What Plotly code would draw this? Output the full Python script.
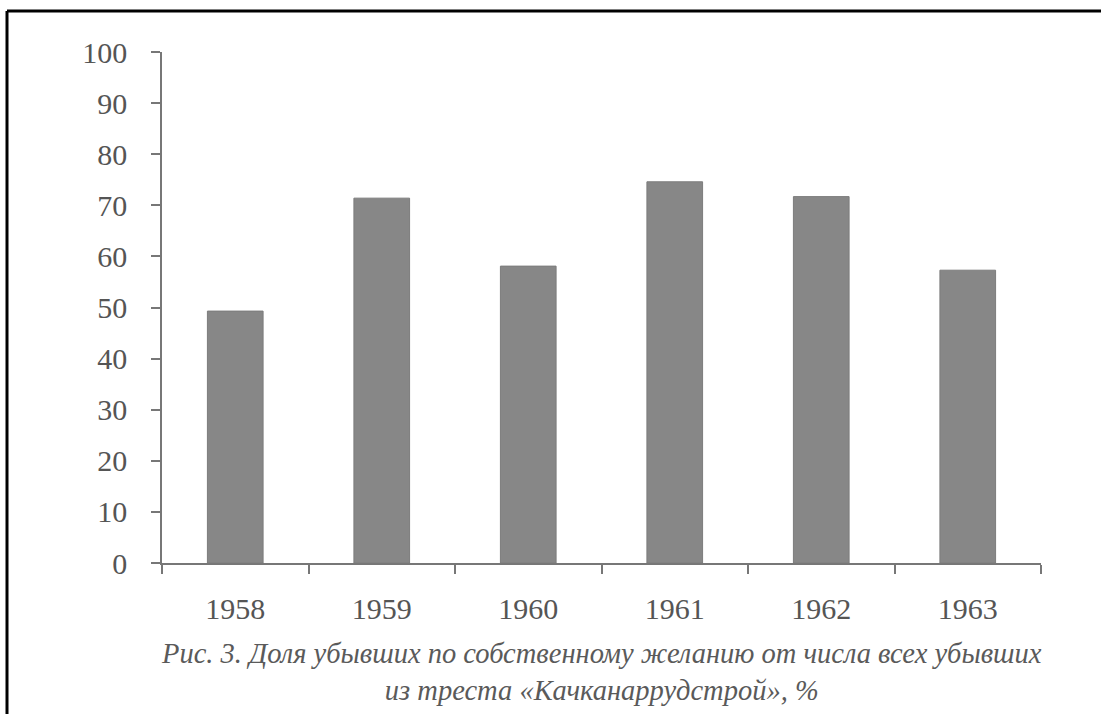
import plotly.graph_objects as go

years = ["1958", "1959", "1960", "1961", "1962", "1963"]
shares = [49.3, 71.4, 58.1, 74.6, 71.7, 57.3]
y_ticks = [0, 10, 20, 30, 40, 50, 60, 70, 80, 90, 100]
caption = ("Рис. 3. Доля убывших по собственному желанию от числа всех убывших"
           "<br>из треста «Качканаррудстрой», %")

W, H = 1101, 714
L, R, T, B = 162, 60, 52, 151
pw, ph = W - L - R, H - T - B

def px_x(p):
    return (p - L) / pw

def px_y(p):
    return (H - B - p) / ph

fig = go.Figure(go.Bar(
    x=years, y=shares,
    marker=dict(color="#878787", line=dict(color="#7c7c7c", width=1)),
    width=0.38,
))

font = dict(family="Liberation Serif", size=30, color="#555555")

fig.update_layout(
    width=W, height=H,
    margin=dict(l=L, r=R, t=T, b=B, pad=0),
    paper_bgcolor="white", plot_bgcolor="white",
    showlegend=False,
    font=font,
    xaxis=dict(
        type="category", showgrid=False, showline=True, linecolor="#777777", linewidth=1.5,
        ticks="outside", ticklen=9, tickcolor="#777777", tickwidth=1.5,
        tickson="boundaries", ticklabelstandoff=18, tickfont=font,
    ),
    yaxis=dict(
        range=[0, 100], tickvals=y_ticks, showgrid=False, zeroline=False,
        showline=True, linecolor="#777777", linewidth=1.5,
        ticks="outside", ticklen=9, tickcolor="#777777", tickwidth=1.5,
        ticklabelstandoff=18, tickfont=font,
    ),
    annotations=[dict(
        text=caption, xref="paper", yref="paper", x=0.5, y=px_y(672),
        xanchor="center", yanchor="middle", showarrow=False, align="center",
        font=dict(family="Liberation Serif", size=28.5, color="#5a5a5a", style="italic"),
    )],
    shapes=[
        dict(type="line", xref="paper", yref="paper", x0=px_x(7), x1=px_x(1101),
             y0=px_y(11), y1=px_y(11), line=dict(color="black", width=3)),
        dict(type="line", xref="paper", yref="paper", x0=px_x(7), x1=px_x(7),
             y0=px_y(11), y1=px_y(714), line=dict(color="black", width=3)),
    ],
)

fig.write_html("out.html", config={"displayModeBar": False},
               post_script="document.body.style.margin='0';document.body.style.overflow='hidden';")
